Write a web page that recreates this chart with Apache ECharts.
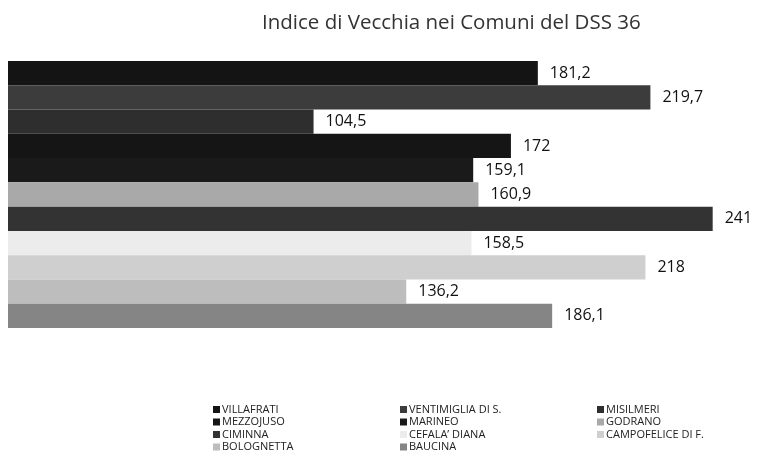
<!DOCTYPE html>
<html>
<head>
<meta charset="utf-8">
<script src="https://cdn.jsdelivr.net/npm/echarts@6/dist/echarts.min.js"></script>
<style>
  html, body { margin: 0; padding: 0; background: #fff; }
  #chart { width: 766px; height: 464px; }
</style>
</head>
<body>
<div id="chart"></div>
<script>
// comuni, in ordine di legenda (il primo è la barra in alto)
var comuni = ['VILLAFRATI', 'VENTIMIGLIA DI S.', 'MISILMERI', 'MEZZOJUSO', 'MARINEO',
  'GODRANO', 'CIMINNA', 'CEFALA\u2019 DIANA', 'CAMPOFELICE DI F.', 'BOLOGNETTA', 'BAUCINA'];
var indice = [181.2, 219.7, 104.5, 172, 159.1, 160.9, 241, 158.5, 218, 136.2, 186.1];
var grigi = ['#141414', '#3c3c3c', '#2e2e2e', '#151515', '#1a1a1a',
  '#a9a9a9', '#333333', '#ececec', '#cfcfcf', '#bdbdbd', '#858585'];

// colonne della legenda
var col1 = ['VILLAFRATI', 'MEZZOJUSO', 'CIMINNA', 'BOLOGNETTA'];
var col2 = ['VENTIMIGLIA DI S.', 'MARINEO', 'CEFALA\u2019 DIANA', 'BAUCINA'];
var col3 = ['MISILMERI', 'GODRANO', 'CAMPOFELICE DI F.'];

function legenda(dati, left) {
  return {
    data: dati,
    orient: 'vertical',
    left: left,
    top: 404,
    itemWidth: 7,
    itemHeight: 7,
    itemGap: 1.5,
    icon: 'rect',
    textStyle: { fontFamily: 'Open Sans', fontSize: 11, color: '#222', lineHeight: 11, padding: [0, 0, 0, -3] },
    padding: 0
  };
}

var myChart = echarts.init(document.getElementById('chart'), null, { renderer: 'canvas' });

var series = comuni.map(function (nome, i) {
  return {
    name: nome,
    type: 'bar',
    data: [indice[i]],
    barGap: '0%',
    barCategoryGap: '0%',
    itemStyle: { color: grigi[i] },
    label: {
      show: true,
      position: 'right',
      distance: 12,
      fontFamily: 'Open Sans',
      fontSize: 16,
      color: '#111',
      formatter: function (p) { return String(p.value).replace('.', ','); }
    }
  };
});

myChart.setOption({
  animation: false,
  title: {
    text: 'Indice di Vecchia nei Comuni del DSS 36',
    left: 257,
    top: 8,
    textStyle: { fontFamily: 'Open Sans', fontSize: 20.5, fontWeight: 'normal', color: '#333' }
  },
  legend: [legenda(col1, 213), legenda(col2, 400), legenda(col3, 597)],
  grid: { left: 8, top: 61, height: 267, width: 731 },
  xAxis: { type: 'value', min: 0, max: 250, show: false },
  yAxis: { type: 'category', data: [''], inverse: true, show: false },
  series: series
});
</script>
</body>
</html>
